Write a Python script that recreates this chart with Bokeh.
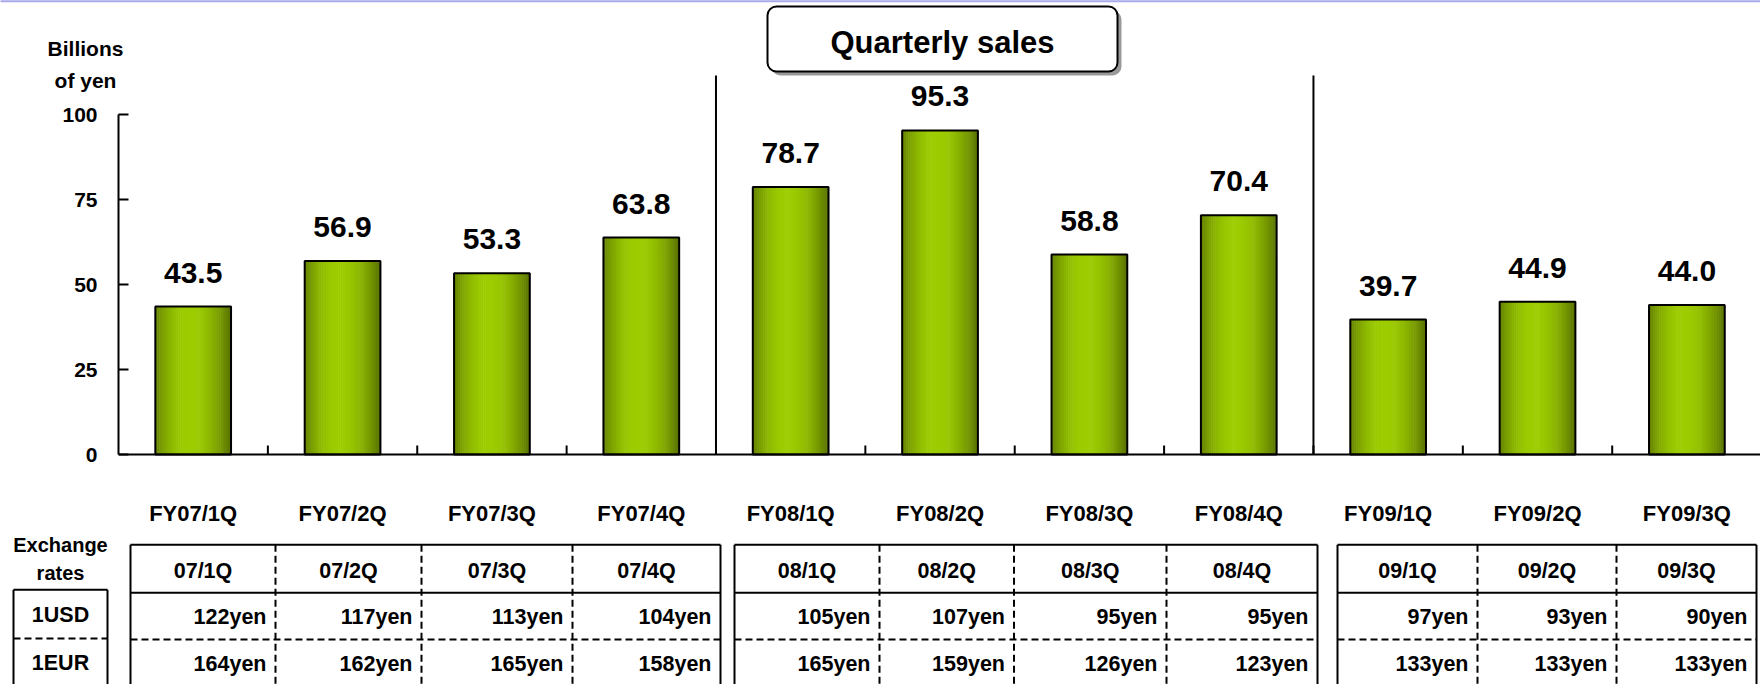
from bokeh.plotting import figure
from bokeh.models import Range1d, LinearAxis, FixedTicker, Span, ColumnDataSource
from bokeh.core.properties import value
from bokeh.embed import file_html
from bokeh.resources import INLINE

# ---------------- data ----------------
quarters = ["FY07/1Q", "FY07/2Q", "FY07/3Q", "FY07/4Q",
            "FY08/1Q", "FY08/2Q", "FY08/3Q", "FY08/4Q",
            "FY09/1Q", "FY09/2Q", "FY09/3Q"]
sales = [43.5, 56.9, 53.3, 63.8, 78.7, 95.3, 58.8, 70.4, 39.7, 44.9, 44.0]
quarters_per_year = [4, 4, 3]
rate_periods = ["07/1Q", "07/2Q", "07/3Q", "07/4Q",
                "08/1Q", "08/2Q", "08/3Q", "08/4Q",
                "09/1Q", "09/2Q", "09/3Q"]
usd_rates = [122, 117, 113, 104, 105, 107, 95, 95, 97, 93, 90]
eur_rates = [164, 162, 165, 158, 165, 159, 126, 123, 133, 133, 133]
y_ticks = [0, 25, 50, 75, 100]
title_text = "Quarterly sales"
unit_lines = ["Billions", "of yen"]
rates_title = ["Exchange", "rates"]
currencies = ["1USD", "1EUR"]

# ---------------- layout constants ----------------
W, H = 1760, 684
LEFT = 118                     # frame starts at page x=118
PX = 149.37                    # pixels per category slot
PY = 3.4                       # pixels per billion yen
ZERO_SY = 454                  # page y of the zero line

def X(sx):
    return (sx - LEFT) / PX

def Y(sy):
    return (ZERO_SY - sy) / PY

FONT = value("Liberation Sans")

p = figure(width=W, height=H,
           x_range=Range1d(0, (W - LEFT) / PX),
           y_range=Range1d(-(H - ZERO_SY) / PY, ZERO_SY / PY),
           output_backend="svg", toolbar_location=None,
           x_axis_location=None, y_axis_location=None,
           min_border_left=LEFT, min_border_right=0,
           min_border_top=0, min_border_bottom=0,
           outline_line_color=None,
           background_fill_color="white", border_fill_color="white")
p.xgrid.visible = False
p.ygrid.visible = False

yaxis = LinearAxis(ticker=FixedTicker(ticks=y_ticks), bounds=(0, 100),
                   major_tick_in=10, major_tick_out=0,
                   minor_tick_in=0, minor_tick_out=0,
                   axis_line_width=2, axis_line_color="black",
                   major_tick_line_width=2, major_tick_line_color="black",
                   major_label_standoff=21,
                   major_label_text_font="Liberation Sans",
                   major_label_text_font_size="21px",
                   major_label_text_font_style="bold",
                   major_label_text_color="black")
p.add_layout(yaxis, "left")

n = len(quarters)
centers = [i + 0.5 for i in range(n)]

# ---------------- bars with horizontal gradient ----------------
bar_w = 0.507
n_strips = 36
dark = (80, 102, 0)
bright = (157, 205, 0)
sx_, st_, sc_ = [], [], []
strip_w = bar_w / n_strips
for j in range(n_strips):
    t = (j + 0.5) / n_strips
    if t < 0.45:
        f = 1 - ((0.45 - t) / 0.52) ** 2
    else:
        f = 1 - ((t - 0.45) / 0.58) ** 2
    f = max(0.0, f)
    c = tuple(int(round(dark[k] + (bright[k] - dark[k]) * f)) for k in range(3))
    col = "#%02x%02x%02x" % c
    for i in range(n):
        sx_.append(centers[i] - bar_w / 2 + (j + 0.5) * strip_w)
        st_.append(sales[i])
        sc_.append(col)
strip_src = ColumnDataSource(dict(x=sx_, top=st_, color=sc_))
p.vbar(x="x", top="top", bottom=0, width=strip_w * 1.25, fill_color="color",
       line_color=None, source=strip_src)
p.vbar(x=centers, top=sales, bottom=0, width=bar_w, fill_color=None,
       line_color="black", line_width=2)

# x axis line and ticks
p.add_layout(Span(location=0, dimension="width", line_color="black", line_width=2))
bounds = list(range(1, n + 1))
p.segment(x0=bounds, y0=[0] * len(bounds), x1=bounds, y1=[9 / PY] * len(bounds),
          line_color="black", line_width=2)

# fiscal-year separators
cum = []
s = 0
for q in quarters_per_year[:-1]:
    s += q
    cum.append(s)
p.segment(x0=cum, y0=[0] * len(cum), x1=cum, y1=[Y(75)] * len(cum),
          line_color="black", line_width=2)

# value labels
p.text(x=centers, y=sales, text=["%.1f" % v for v in sales],
       text_align="center", text_baseline="middle", y_offset=-34,
       text_font=FONT, text_font_size="30px", text_font_style="bold",
       text_color="black")

# category labels
p.text(x=centers, y=[Y(512.5)] * n, text=quarters,
       text_align="center", text_baseline="middle",
       text_font=FONT, text_font_size="22px", text_font_style="bold",
       text_color="black")

# ---------------- title box ----------------
bx0, bx1, by0, by1 = X(767), X(1117), Y(71), Y(6)
sh_x, sh_y = 4 / PX, 4 / PY
p.quad(left=bx0 + sh_x, right=bx1 + sh_x, bottom=by0 - sh_y, top=by1 - sh_y,
       fill_color="#9a9a9a", line_color=None, border_radius=9)
p.quad(left=bx0, right=bx1, bottom=by0, top=by1,
       fill_color="white", line_color="black", line_width=2, border_radius=9)
p.text(x=[(bx0 + bx1) / 2], y=[Y(42)], text=[title_text],
       text_align="center", text_baseline="middle",
       text_font=FONT, text_font_size="31px", text_font_style="bold",
       text_color="black")

# thin lavender rule along the very top of the slide
p.segment(x0=[X(0)], y0=[Y(0.8)], x1=[X(W)], y1=[Y(0.8)],
          line_color="#a9a9ec", line_width=2, level="overlay")

# ---------------- exchange-rate table ----------------
segments_px = [[130, 275, 421, 572, 720],
               [734, 879, 1013.5, 1166, 1317],
               [1337, 1477, 1616, 1756]]
t_top, t_head, t_dash, t_bot = Y(544.3), Y(592.3), Y(639), Y(700)
DASH = "7 4"
col_left, col_right = [], []
for seg in segments_px:
    xs = [X(v) for v in seg]
    L, R = xs[0], xs[-1]
    p.segment(x0=[L, L], y0=[t_top, t_head], x1=[R, R], y1=[t_top, t_head],
              line_color="black", line_width=2)
    p.segment(x0=[L], y0=[t_dash], x1=[R], y1=[t_dash],
              line_color="black", line_width=2, line_dash=DASH)
    p.segment(x0=[L, R], y0=[t_top, t_top], x1=[L, R], y1=[t_bot, t_bot],
              line_color="black", line_width=2)
    inner = xs[1:-1]
    p.segment(x0=inner, y0=[t_top] * len(inner), x1=inner, y1=[t_bot] * len(inner),
              line_color="black", line_width=2, line_dash=DASH)
    for a, b in zip(xs[:-1], xs[1:]):
        col_left.append(a)
        col_right.append(b)

col_mid = [(a + b) / 2 for a, b in zip(col_left, col_right)]
p.text(x=col_mid, y=[Y(570.5)] * n, text=rate_periods,
       text_align="center", text_baseline="middle",
       text_font=FONT, text_font_size="21.5px", text_font_style="bold",
       text_color="black")
p.text(x=col_right, y=[Y(616)] * n, text=["%dyen" % v for v in usd_rates],
       text_align="right", text_baseline="middle", x_offset=-9,
       text_font=FONT, text_font_size="21.5px", text_font_style="bold",
       text_color="black")
p.text(x=col_right, y=[Y(663.5)] * n, text=["%dyen" % v for v in eur_rates],
       text_align="right", text_baseline="middle", x_offset=-9,
       text_font=FONT, text_font_size="21.5px", text_font_style="bold",
       text_color="black")

# ---------------- left-hand labels (outside frame) ----------------
lb0, lb1 = X(13), X(107)
lb_top, lb_dash = Y(589.3), Y(638)
p.segment(x0=[lb0], y0=[lb_top], x1=[lb1], y1=[lb_top],
          line_color="black", line_width=2, level="overlay")
p.segment(x0=[lb0, lb1], y0=[lb_top, lb_top], x1=[lb0, lb1], y1=[t_bot, t_bot],
          line_color="black", line_width=2, level="overlay")
p.segment(x0=[lb0], y0=[lb_dash], x1=[lb1], y1=[lb_dash],
          line_color="black", line_width=2, line_dash=DASH, level="overlay")
lbm = (lb0 + lb1) / 2
p.text(x=[lbm, lbm], y=[Y(614.5), Y(662)], text=currencies,
       text_align="center", text_baseline="middle",
       text_font=FONT, text_font_size="21.5px", text_font_style="bold",
       text_color="black", level="overlay")
p.text(x=[lbm, lbm], y=[Y(544), Y(572)], text=rates_title,
       text_align="center", text_baseline="middle",
       text_font=FONT, text_font_size="20px", text_font_style="bold",
       text_color="black", level="overlay")
p.text(x=[X(85), X(85)], y=[Y(47.7), Y(80)], text=unit_lines,
       text_align="center", text_baseline="middle",
       text_font=FONT, text_font_size="21px", text_font_style="bold",
       text_color="black", level="overlay")

open("out.html", "w").write(file_html(p, INLINE))
